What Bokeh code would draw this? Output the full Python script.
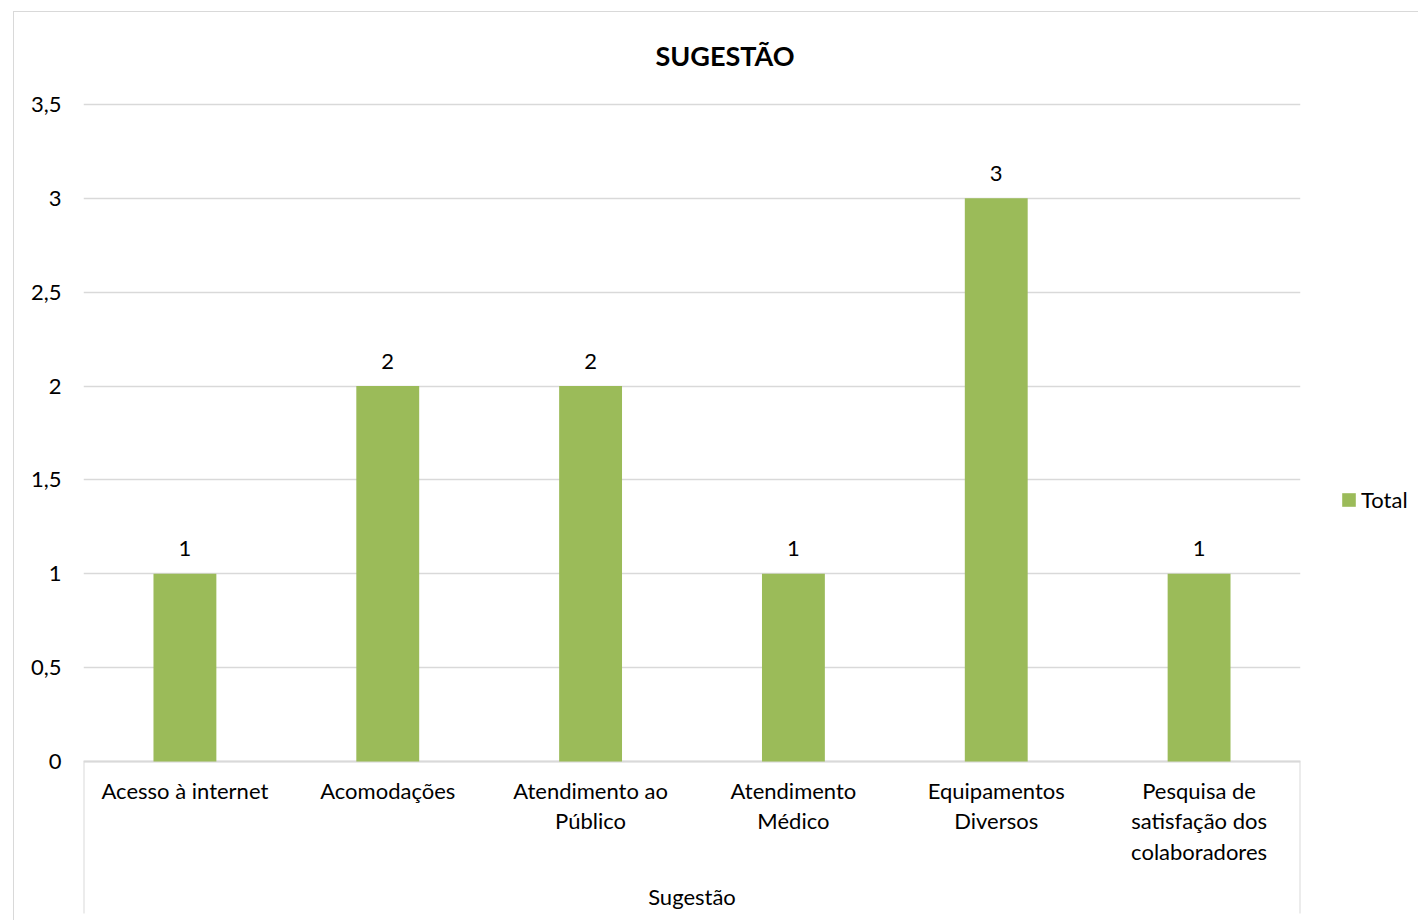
from bokeh.plotting import figure
from bokeh.models import (ColumnDataSource, FactorRange, Range1d, FixedTicker,
                          Legend, LegendItem)
from bokeh.core.properties import value
from bokeh.embed import file_html
from bokeh.resources import INLINE

categories = ["Acesso à internet", "Acomodações", "Atendimento ao\nPúblico",
              "Atendimento\nMédico", "Equipamentos\nDiversos",
              "Pesquisa de\nsatisfação dos\ncolaboradores"]
totals = [1, 2, 2, 1, 3, 1]
y_ticks = [0, 0.5, 1, 1.5, 2, 2.5, 3, 3.5]
y_tick_labels = ["0", "0,5", "1", "1,5", "2", "2,5", "3", "3,5"]
title_text = "SUGESTÃO"
x_title = "Sugestão"
series_name = "Total"

FONT = "Lato"
GREEN = "#9BBB59"
GRID = "#d9d9d9"

# layout geometry (pixels)
OX, OY = 14, 12            # canvas origin inside page (margin + border)
CW, CH = 1418 - OX, 920 - OY
F_LEFT, F_RIGHT = 83 - OX, 1300 - OX
F_TOP, F_BOTTOM = 96 - OY, 913 - OY
Y_ZERO_PX, Y_TOP_PX = 761, 104    # page pixels of y=0 and y=3.5
px_per_unit = (Y_ZERO_PX - Y_TOP_PX) / y_ticks[-1]
y_start = -(913 - Y_ZERO_PX) / px_per_unit
y_end = y_ticks[-1] + (Y_TOP_PX - 96) / px_per_unit

src = ColumnDataSource(dict(cat=categories, val=totals, lab=[str(v) for v in totals],
                            base=[0] * len(categories)))

p = figure(x_range=FactorRange(*categories, range_padding=0),
           y_range=Range1d(y_start, y_end),
           frame_width=F_RIGHT - F_LEFT, frame_height=F_BOTTOM - F_TOP,
           min_border_left=F_LEFT, min_border_right=CW - F_RIGHT,
           min_border_top=F_TOP, min_border_bottom=CH - F_BOTTOM,
           output_backend="svg", toolbar_location=None)
p.styles = {"margin-left": "13px", "margin-top": "11px",
            "border-left": "1px solid #d9d9d9", "border-top": "1px solid #d9d9d9"}
p.outline_line_color = None
p.background_fill_color = "white"
p.border_fill_color = "white"

# pivot category box below the value axis (open at the bottom, continues past the edge)
p.quad(left=[0], right=[len(categories)], top=[0], bottom=[y_start - 1],
       fill_color=None, line_color=GRID, line_width=2)

bars = p.vbar(x="cat", top="val", width=0.31, source=src, fill_color=GREEN, line_color=None)
p.text(x="cat", y="val", text="lab", source=src, y_offset=-25,
       text_align="center", text_baseline="alphabetic", text_font=value(FONT),
       text_font_size="22px", text_color="black")

# category labels and category axis title
p.text(x="cat", y="base", text="cat", source=src, y_offset=15,
       text_align="center", text_baseline="top", text_font=value(FONT),
       text_font_size="22px", text_color="black", text_line_height=1.14)
p.text(x=[len(categories) / 2], y=[0], text=[x_title], y_offset=135,
       text_align="center", text_baseline="middle", text_font=value(FONT),
       text_font_size="22px", text_color="black")

p.xaxis.visible = False
p.xgrid.grid_line_color = None
p.ygrid.grid_line_color = GRID
p.ygrid.grid_line_width = 1.5
p.ygrid.ticker = FixedTicker(ticks=y_ticks)

ya = p.yaxis[0]
ya.ticker = FixedTicker(ticks=y_ticks)
ya.major_label_overrides = {t: l for t, l in zip(y_ticks, y_tick_labels)}
ya.axis_line_color = None
ya.major_tick_line_color = None
ya.minor_tick_line_color = None
ya.major_label_standoff = 16
ya.major_label_text_font = FONT
ya.major_label_text_font_size = "22px"
ya.major_label_text_color = "black"

p.title.text = title_text
p.title.align = "left"
p.title.offset = 572
p.title.standoff = 49
p.title.text_font = FONT
p.title.text_font_size = "27px"
p.title.text_font_style = "bold"
p.title.text_color = "black"

legend = Legend(items=[LegendItem(label=series_name, renderers=[bars])],
                location=(40, 400), padding=0, margin=0, border_line_color=None,
                background_fill_alpha=0, glyph_width=17, glyph_height=17,
                label_standoff=4, label_text_font=FONT, label_text_font_size="22px",
                label_text_color="black")
p.add_layout(legend, "right")

open("out.html", "w").write(file_html(p, INLINE))
